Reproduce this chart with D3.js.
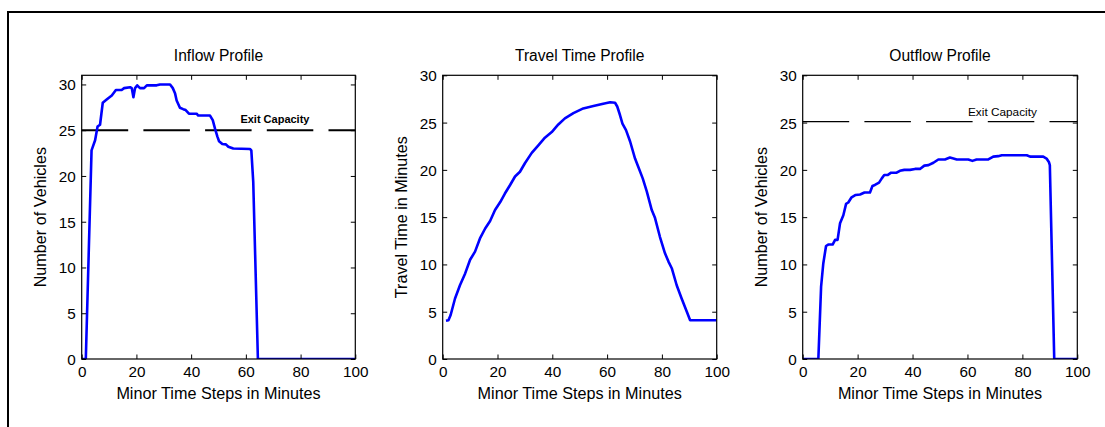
<!DOCTYPE html>
<html>
<head>
<meta charset="utf-8">
<script src="https://cdn.jsdelivr.net/npm/d3@7"></script>
<style>
  html, body { margin: 0; padding: 0; background: #fff; }
  svg { display: block; font-family: "Liberation Sans", Arial, sans-serif; }
</style>
</head>
<body>
<svg id="fig" width="1105" height="427"></svg>
<script>
// ---- data ----
const xTicks = [0, 20, 40, 60, 80, 100];
const yTicks = [0, 5, 10, 15, 20, 25, 30];
const exitCapacity = 25;

// Inflow profile (vehicles per minute)
const inflowT = [0, 1.5, 3.6, 4.9, 5.8, 6.7, 7.7, 8.9, 9.7, 11, 12.5, 14.6, 15.5, 17.7, 18.3, 18.9, 19.5, 20.3, 21.3, 22.8, 23.8, 27.4, 28.6, 32.3, 33.3, 34.1, 34.7, 35.9, 37.1, 38, 39.2, 42, 42.6, 46.9, 47.9, 48.7, 49.6, 50.2, 51.4, 52.7, 53.6, 55.4, 61.5, 62, 62.7, 64.4, 100];
const inflowV = [0, 0, 22.8, 23.9, 25.4, 25.6, 28.0, 28.3, 28.5, 28.8, 29.4, 29.4, 29.6, 29.7, 29.6, 28.6, 29.6, 29.9, 29.6, 29.6, 29.9, 29.9, 30.0, 30.0, 29.6, 29.05, 28.25, 27.45, 27.3, 27.2, 26.8, 26.8, 26.6, 26.6, 26.1, 25.2, 24.3, 23.8, 23.5, 23.45, 23.2, 23.0, 22.95, 22.8, 19.35, 0, 0];

// Travel time profile (minutes)
const travelT = [1.2, 2.1, 2.9, 4.5, 6.3, 8.2, 10, 11.8, 13.6, 15.5, 17.3, 19.1, 21, 22.7, 24.6, 26.4, 28.2, 30, 32.5, 34.9, 37.3, 39.8, 42.2, 44.6, 47.7, 51.3, 55, 58.6, 61.1, 62.9, 63.7, 64.7, 65.6, 66.9, 68.4, 70.2, 71.4, 73, 74.5, 76.3, 77.5, 79.3, 81.1, 82.4, 83.6, 85.4, 87.2, 89.1, 90.3, 100];
const travelV = [4.05, 4.1, 4.65, 6.4, 7.8, 9.05, 10.5, 11.35, 12.75, 13.8, 14.6, 15.75, 16.6, 17.5, 18.4, 19.3, 19.8, 20.7, 21.8, 22.6, 23.4, 24.0, 24.8, 25.45, 26.0, 26.5, 26.75, 27.0, 27.15, 27.1, 26.7, 25.8, 24.9, 24.2, 23.0, 21.2, 20.3, 19.1, 17.7, 15.75, 14.9, 12.9, 11.2, 10.3, 9.6, 7.8, 6.4, 5.0, 4.1, 4.1];

// Outflow profile (vehicles per minute)
const outflowT = [0, 5.7, 6.7, 7.5, 8.5, 9.3, 10.9, 11.8, 12.7, 13.6, 14.8, 15.8, 16.6, 17.8, 19.3, 20.9, 22.5, 24.5, 25.4, 26.3, 27.8, 28.8, 29.7, 30.9, 32.2, 34.2, 35.4, 37, 39.1, 40.9, 42.7, 44.3, 45.8, 47.6, 49.4, 51.8, 53.6, 54.9, 56.1, 60.3, 61.8, 63.3, 67.6, 69.4, 71.2, 72.5, 81.6, 82.8, 87.6, 88.8, 89.7, 90, 91.6, 100];
const outflowV = [0, 0, 7.65, 10.1, 11.95, 12.1, 12.1, 12.6, 12.6, 14.35, 15.2, 16.4, 16.55, 17.1, 17.35, 17.4, 17.6, 17.6, 18.3, 18.4, 18.65, 19.1, 19.45, 19.45, 19.7, 19.7, 19.9, 20.0, 20.0, 20.1, 20.1, 20.45, 20.5, 20.75, 21.1, 21.1, 21.3, 21.2, 21.1, 21.1, 20.95, 21.1, 21.1, 21.4, 21.45, 21.55, 21.55, 21.4, 21.4, 21.2, 20.8, 20.5, 0, 0];

const panels = [
  { title: "Inflow Profile", ylabel: "Number of Vehicles", t: inflowT, v: inflowV,
    left: 81.7, right: 355.3, yMax: 31, capacity: exitCapacity, capW: 2, capLabelX: 58, capLabelY: 25.8, capBold: true },
  { title: "Travel Time Profile", ylabel: "Travel Time in Minutes", t: travelT, v: travelV,
    left: 442.7, right: 716.7, yMax: 30, capacity: null },
  { title: "Outflow Profile", ylabel: "Number of Vehicles", t: outflowT, v: outflowV,
    left: 802.7, right: 1077.3, yMax: 30, capacity: exitCapacity + 0.1, capW: 1.1, capLabelX: 60.2, capLabelY: 25.7, capBold: false }
];

const plotTop = 75.3, plotBottom = 359;
const svg = d3.select("#fig");

// figure frame (top and left edges)
svg.append("path")
  .attr("d", "M8,427V12H1105")
  .attr("fill", "none").attr("stroke", "#000").attr("stroke-width", 2);

panels.forEach(p => {
  const x = d3.scaleLinear().domain([0, 100]).range([p.left, p.right]);
  const y = d3.scaleLinear().domain([0, p.yMax]).range([plotBottom, plotTop]);
  const g = svg.append("g");
  const tickLen = 4.5;

  // clip for data
  const clipId = "clip" + p.left.toFixed(0);
  g.append("clipPath").attr("id", clipId).append("rect")
    .attr("x", p.left).attr("y", plotTop).attr("width", p.right - p.left).attr("height", plotBottom - plotTop);

  // exit capacity reference line
  if (p.capacity !== null) {
    g.append("line")
      .attr("x1", p.left).attr("x2", p.right)
      .attr("y1", y(p.capacity)).attr("y2", y(p.capacity))
      .attr("stroke", "#000").attr("stroke-width", p.capW)
      .attr("stroke-dasharray", "46.5,15.2");
    g.append("text")
      .attr("x", x(p.capLabelX)).attr("y", y(p.capLabelY))
      .attr("font-size", p.capBold ? 11 : 11.8)
      .attr("font-weight", p.capBold ? "bold" : "normal")
      .attr("fill", "#000")
      .text("Exit Capacity");
  }

  // data line
  const pts = p.t.map((t, i) => [t, p.v[i]]);
  g.append("path")
    .datum(pts)
    .attr("clip-path", `url(#${clipId})`)
    .attr("fill", "none").attr("stroke", "#0000ff").attr("stroke-width", 2.6)
    .attr("stroke-linejoin", "round")
    .attr("d", d3.line().x(d => x(d[0])).y(d => y(d[1])));

  // axes: ticks inward on all four sides, labels on bottom and left
  const ax = g.append("g").attr("transform", `translate(0,${plotBottom})`)
    .call(d3.axisBottom(x).tickValues(xTicks).tickSize(-tickLen).tickPadding(7.5).tickFormat(d3.format("d")));
  const axTop = g.append("g").attr("transform", `translate(0,${plotTop})`)
    .call(d3.axisTop(x).tickValues(xTicks).tickSize(-tickLen).tickFormat(""));
  const ay = g.append("g").attr("transform", `translate(${p.left},0)`)
    .call(d3.axisLeft(y).tickValues(yTicks).tickSize(-tickLen).tickPadding(6).tickFormat(d3.format("d")));
  const ayR = g.append("g").attr("transform", `translate(${p.right},0)`)
    .call(d3.axisRight(y).tickValues(yTicks).tickSize(-tickLen).tickFormat(""));

  [ax, axTop, ay, ayR].forEach(a => {
    a.select(".domain").remove();
    a.selectAll(".tick line").attr("stroke", "#000").attr("stroke-width", 1);
    a.selectAll(".tick text").attr("font-size", 15.3).attr("fill", "#000")
      .attr("font-family", '"Liberation Sans", Arial, sans-serif');
  });
  ay.selectAll(".tick text").attr("dy", "0.36em");

  // axes box
  g.append("rect")
    .attr("x", p.left).attr("y", plotTop)
    .attr("width", p.right - p.left).attr("height", plotBottom - plotTop)
    .attr("fill", "none").attr("stroke", "#000").attr("stroke-width", 1.2);

  const cx = (p.left + p.right) / 2;
  g.append("text").attr("x", cx).attr("y", 60.7)
    .attr("text-anchor", "middle").attr("font-size", 15.6).attr("fill", "#000")
    .text(p.title);
  g.append("text").attr("x", cx).attr("y", 399.3)
    .attr("text-anchor", "middle").attr("font-size", 16.2).attr("fill", "#000")
    .text("Minor Time Steps in Minutes");
  g.append("text")
    .attr("transform", `translate(${p.left - 35.8},${(plotTop + plotBottom) / 2}) rotate(-90)`)
    .attr("text-anchor", "middle").attr("font-size", 16.2).attr("fill", "#000")
    .text(p.ylabel);
});
</script>
</body>
</html>
